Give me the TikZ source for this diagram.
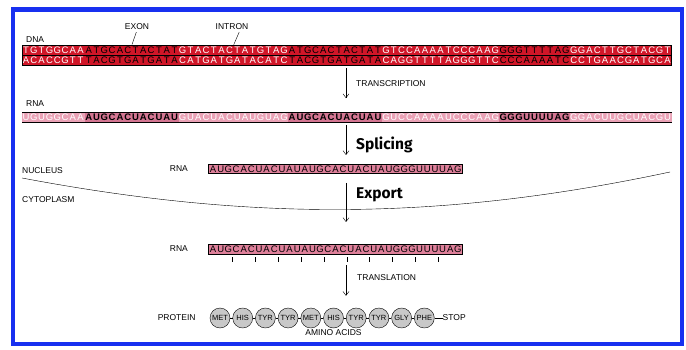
\documentclass[tikz,border=0pt]{standalone}
\usepackage{fontspec}
\setmainfont{Liberation Sans}
\newfontfamily\comicfamily{Fira Sans}
\usetikzlibrary{arrows.meta, positioning}

\definecolor{dnared}{RGB}{208,22,40}
\definecolor{rnadark}{RGB}{212,118,146}
\definecolor{rnapale}{RGB}{234,162,182}
\definecolor{rnapink}{RGB}{222,128,154}
\definecolor{frameblue}{RGB}{24,48,240}
\definecolor{acidgray}{RGB}{200,200,200}

% one letter per fixed-width box
\newlength\seqpitch
\newcommand\spread[2][7.8pt]{\setlength\seqpitch{#1}\spreadloop#2\relax}
\def\spreadloop#1{\ifx\relax#1\else\makebox[\seqpitch]{#1}\expandafter\spreadloop\fi}

\tikzstyle{strand}=[inner sep=0pt, minimum height=9.5pt, line width=0.3pt, font=\fontsize{9.5}{10}\selectfont]
\tikzstyle{dnaexon}=[strand, fill=dnared, draw=dnared, text=black]
\tikzstyle{dnaintron}=[strand, fill=dnared, draw=dnared, text=white]
\tikzstyle{rnaexon}=[strand, fill=rnadark, draw=rnadark, text=black, font=\fontsize{9.5}{10}\selectfont\bfseries]
\tikzstyle{rnaintron}=[strand, fill=rnapale, draw=rnapale, text=white]
\tikzstyle{mature}=[strand, fill=rnapink, draw=black, line width=0.5pt, inner xsep=1pt]
\tikzstyle{smalltext}=[inner sep=0pt, font=\fontsize{8.5}{9}\selectfont]
\tikzstyle{process}=[inner sep=0pt, anchor=base west, font=\comicfamily\bfseries\fontsize{15.5}{17}\selectfont]
\tikzstyle{acid}=[circle, draw, fill=acidgray, minimum size=20pt, inner sep=0pt, font=\fontsize{7.5}{8}\selectfont]

\begin{document}
\begin{tikzpicture}[x=1pt, y=1pt, node distance=0pt, >={Straight Barb[length=4pt,width=6pt]}]
  \useasboundingbox (0,0) rectangle (686,-350);
  \draw[frameblue, line width=4.5pt] (13,-9.5) rectangle (682,-344);
  \coordinate (axis) at (346,0);

  % DNA
  \node[smalltext, anchor=west] (dna) at (26,-40) {DNA};
  \node[dnaintron, anchor=west] (t1) at (22,-50.5) {\spread{TGTGGCAA}};
  \node[dnaexon, right=of t1] (t2) {\spread{ATGCACTACTAT}};
  \node[dnaintron, right=of t2] (t3) {\spread{GTACTACTATGTAG}};
  \node[dnaexon, right=of t3] (t4) {\spread{ATGCACTACTAT}};
  \node[dnaintron, right=of t4] (t5) {\spread{GTCCAAAATCCCAAG}};
  \node[dnaexon, right=of t5] (t6) {\spread{GGGTTTTAG}};
  \node[dnaintron, right=of t6] (t7) {\spread{GGACTTGCTACGT}};
  \node[dnaintron, below=of t1] (b1) {\spread{ACACCGTT}};
  \node[dnaexon, below=of t2] (b2) {\spread{TACGTGATGATA}};
  \node[dnaintron, below=of t3] (b3) {\spread{CATGATGATACATC}};
  \node[dnaexon, below=of t4] (b4) {\spread{TACGTGATGATA}};
  \node[dnaintron, below=of t5] (b5) {\spread{CAGGTTTTAGGGTTC}};
  \node[dnaexon, below=of t6] (b6) {\spread{CCCAAAATC}};
  \node[dnaintron, below=of t7] (b7) {\spread{CCTGAACGATGCA}};
  \draw (t1.north west) rectangle (b7.south east);
  \draw (t1.south west) -- (t7.south east);
  \node[smalltext] (exon) at (137,-27) {EXON};
  \node[smalltext] (intron) at (232,-27) {INTRON};
  \draw[shorten <=2pt, shorten >=1pt] (exon.south) -- (t2.north);
  \draw[shorten <=2pt, shorten >=1pt] ([xshift=8pt]intron.south) -- (t3.north);

  % transcription
  \node[smalltext, anchor=west] (rna) at (26,-104) {RNA};
  \node[rnaintron, anchor=west] (r1) at (22,-117) {\spread{UGUGGCAA}};
  \node[rnaexon, right=of r1] (r2) {\spread{AUGCACUACUAU}};
  \node[rnaintron, right=of r2] (r3) {\spread{GUACUACUAUGUAG}};
  \node[rnaexon, right=of r3] (r4) {\spread{AUGCACUACUAU}};
  \node[rnaintron, right=of r4] (r5) {\spread{GUCCAAAAUCCCAAG}};
  \node[rnaexon, right=of r5] (r6) {\spread{GGGUUUUAG}};
  \node[rnaintron, right=of r6] (r7) {\spread{GGACUUGCUACGU}};
  \draw (r1.north west) -- (r7.north east) (r1.south west) -- (r7.south east);
  \draw[->, shorten <=3pt, shorten >=14pt] (b4.south -| axis) -- (r4.north -| axis);
  \node[smalltext, anchor=west] (transcription) at (356,-84) {TRANSCRIPTION};

  % splicing
  \node[mature] (m1) at (335.5,-169) {\spread[7.65pt]{AUGCACUACUAUAUGCACUACUAUGGGUUUUAG}};
  \node[smalltext, left=20pt of m1] (rna1) {RNA};
  \draw[->, shorten <=3pt, shorten >=9pt] (r4.south -| axis) -- (m1.north -| axis);
  \node[process] (splicing) at (356,-150) {Splicing};

  % nuclear membrane
  \node[smalltext, anchor=west] (nucleus) at (22,-171) {NUCLEUS};
  \node[smalltext, anchor=west] (cytoplasm) at (22,-200) {CYTOPLASM};
  \draw (22,-178) .. controls (250,-221) and (440,-221) .. (670,-172);

  % export
  \node[mature] (m2) at (335.5,-249) {\spread[7.65pt]{AUGCACUACUAUAUGCACUACUAUGGGUUUUAG}};
  \node[smalltext, left=20pt of m2] (rna2) {RNA};
  \draw[->, shorten <=9pt, shorten >=22pt] (m1.south -| axis) -- (m2.north -| axis);
  \node[process] (export) at (356,-199) {Export};
  \foreach \k in {1,...,10}
    \draw ([xshift=\k*22.95pt+1pt, yshift=-3pt]m2.south west) -- ++(0,-5);

  % translation
  \node[acid] (a1) at (220,-318) {MET};
  \node[acid, right=2.3pt of a1] (a2) {HIS};
  \node[acid, right=2.3pt of a2] (a3) {TYR};
  \node[acid, right=2.3pt of a3] (a4) {TYR};
  \node[acid, right=2.3pt of a4] (a5) {MET};
  \node[acid, right=2.3pt of a5] (a6) {HIS};
  \node[acid, right=2.3pt of a6] (a7) {TYR};
  \node[acid, right=2.3pt of a7] (a8) {TYR};
  \node[acid, right=2.3pt of a8] (a9) {GLY};
  \node[acid, right=2.3pt of a9] (a10) {PHE};
  \foreach \i/\j in {1/2,2/3,3/4,4/5,5/6,6/7,7/8,8/9,9/10}
    \draw (a\i) -- (a\j);
  \node[smalltext, right=8pt of a10] (stop) {STOP};
  \draw (a10) -- (stop);
  \node[smalltext, left=14pt of a1] (protein) {PROTEIN};
  \node[smalltext, below=1pt of a6] (amino) {AMINO ACIDS};
  \draw[->, shorten <=11pt, shorten >=12pt] (m2.south -| axis) -- (a6.north -| axis);
  \node[smalltext, anchor=west] (translation) at (357,-278) {TRANSLATION};
\end{tikzpicture}
\end{document}
